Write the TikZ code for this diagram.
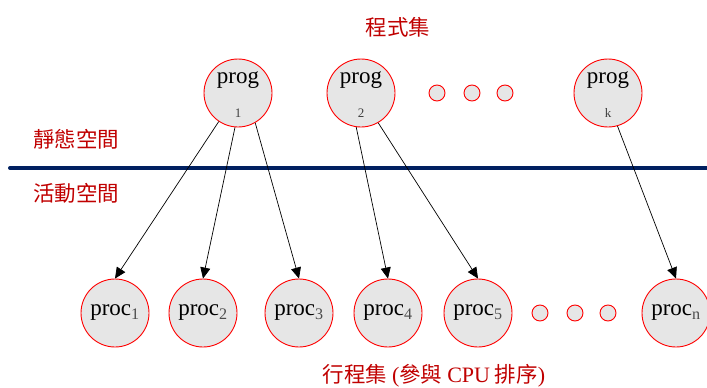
\documentclass[tikz,border=0pt]{standalone}
\usepackage{fontspec}
\setmainfont{Liberation Serif}
\newfontfamily\cjk{Noto Sans CJK TC}
\usetikzlibrary{arrows.meta}
\definecolor{lblred}{RGB}{192,0,0}
\definecolor{navy}{RGB}{0,32,96}
\definecolor{cfill}{RGB}{230,230,230}
\definecolor{cedge}{RGB}{255,0,0}
\tikzset{
  bignode/.style={circle, draw=cedge, fill=cfill, line width=0.9pt, minimum size=68pt, inner sep=0pt},
  dotnode/.style={circle, draw=cedge, fill=cfill, line width=0.9pt, minimum size=16pt, inner sep=0pt},
  lbl/.style={text=lblred, font=\cjk\fontsize{21.5}{25}\selectfont, inner sep=0pt},
  conn/.style={-{Triangle[length=11pt,width=10pt]}, line width=0.7pt, black},
  proctext/.style={font=\fontsize{23}{27}\selectfont},
  subn/.style={font=\fontsize{13}{15}\selectfont, text=black!75}
}
\begin{document}
\begin{tikzpicture}[x=1pt,y=-1pt]
\useasboundingbox (0,0) rectangle (707,388);
% labels
\node[lbl] (t1) at (398,27) {程式集};
\node[lbl, anchor=west] (t2) at (33,139) {靜態空間};
\node[lbl, anchor=west] (t3) at (33,193) {活動空間};
\node[lbl] (t4) at (434,376) {行程集 {\rmfamily\fontsize{22}{25}\selectfont (}參與 {\rmfamily\fontsize{22}{25}\selectfont CPU} 排序{\rmfamily\fontsize{22}{25}\selectfont )}};
% separator
\coordinate (l1) at (10,168);
\coordinate (l2) at (710,168);
\draw[navy, line width=4pt, line cap=round] (l1) -- (l2);
% program nodes
\node[bignode] (p1) at (238,93) {};
\node[bignode] (p2) at (361,93) {};
\node[bignode] (pk) at (608,93) {};
\node[proctext] (p1t) at (238,80) {prog};
\node[proctext] (p2t) at (361,80) {prog};
\node[proctext] (pkt) at (608,80) {prog};
\node[subn] (p1s) at (238,113) {1};
\node[subn] (p2s) at (361,113) {2};
\node[subn] (pks) at (608,113) {k};
\node[dotnode] (d1) at (437,93) {};
\node[dotnode] (d2) at (472,93) {};
\node[dotnode] (d3) at (505,93) {};
% process nodes
\node[bignode, proctext] (q1) at (115,313) {proc\textsubscript{\color{black!70}1}};
\node[bignode, proctext] (q2) at (203,313) {proc\textsubscript{\color{black!70}2}};
\node[bignode, proctext] (q3) at (299,313) {proc\textsubscript{\color{black!70}3}};
\node[bignode, proctext] (q4) at (388,313) {proc\textsubscript{\color{black!70}4}};
\node[bignode, proctext] (q5) at (478,313) {proc\textsubscript{\color{black!70}5}};
\node[dotnode] (e1) at (540,313) {};
\node[dotnode] (e2) at (575,313) {};
\node[dotnode] (e3) at (608,313) {};
\node[bignode, proctext] (qn) at (676,313) {proc\textsubscript{\color{black!70}n}};
% connectors
\draw[conn] (p1.-124) -- (q1.north);
\draw[conn] (p1.-95) -- (q2.north);
\draw[conn] (p1.-60) -- (q3.north);
\draw[conn] (p2.-98) -- (q4.north);
\draw[conn] (p2.-60) -- (q5.north);
\draw[conn] (pk.-74) -- (qn.north);
\end{tikzpicture}
\end{document}
